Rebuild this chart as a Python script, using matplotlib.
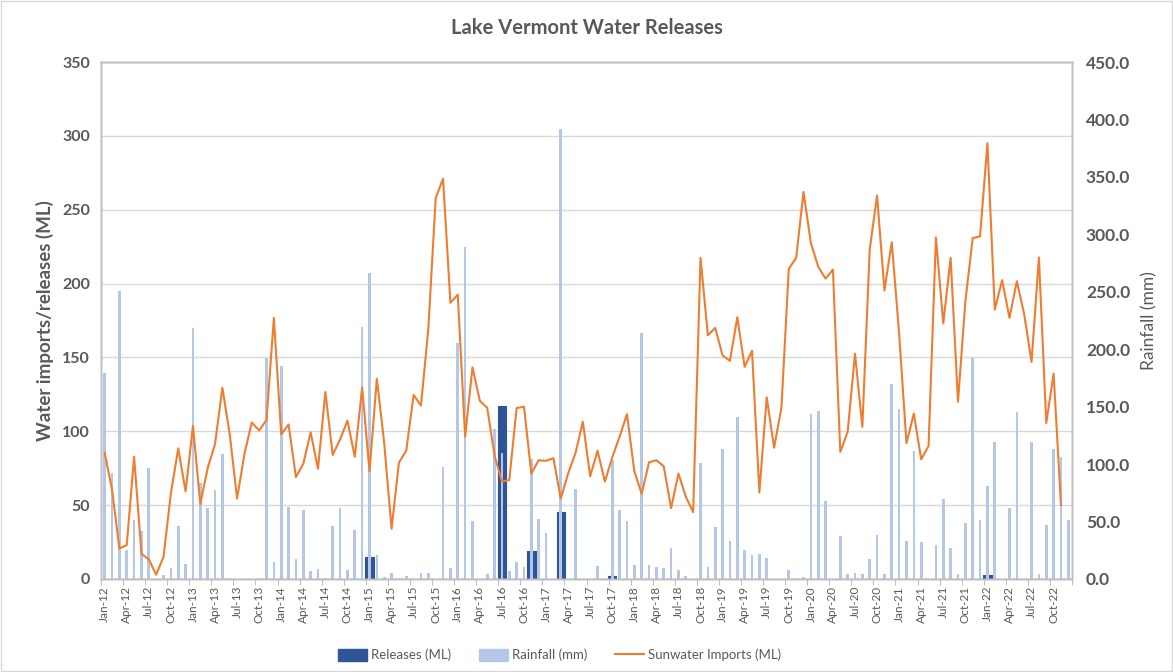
import numpy as np
import matplotlib
matplotlib.use("Agg")
import matplotlib.pyplot as plt
from matplotlib.patches import Patch, Rectangle
from matplotlib.lines import Line2D

plt.rcParams.update({
    "font.family": ["Lato", "DejaVu Sans"],
    "axes.linewidth": 1.0,
})

# --- Data (monthly, Jan-12 .. Dec-22) ---
years = list(range(2012, 2023))
month_abbr = ["Jan", "Feb", "Mar", "Apr", "May", "Jun",
              "Jul", "Aug", "Sep", "Oct", "Nov", "Dec"]
months = ["%s-%02d" % (m, y % 100) for y in years for m in month_abbr]

sunwater_imports = [
    85.5, 60.5, 20.6, 23.0, 82.8, 17.0, 13.3, 2.9, 15.0, 58.0, 88.4, 59.3,          # 2012
    103.6, 50.8, 75.0, 91.3, 129.5, 98.0, 54.5, 84.7, 106.0, 100.5, 107.7, 176.8,   # 2013
    98.0, 104.6, 69.0, 78.0, 99.3, 74.6, 126.6, 84.0, 94.4, 107.3, 82.8, 129.5,     # 2014
    73.0, 135.6, 92.0, 34.0, 78.7, 87.0, 124.7, 117.4, 169.5, 257.9, 271.0, 187.0,  # 2015
    192.5, 96.4, 143.3, 120.6, 116.0, 83.5, 66.0, 67.0, 115.7, 116.7, 71.4, 80.4,   # 2016
    80.0, 81.8, 54.5, 71.4, 85.2, 106.5, 69.5, 86.9, 66.0, 82.3, 96.4, 111.6,       # 2017
    73.0, 57.6, 79.0, 80.4, 76.3, 48.0, 71.4, 55.7, 45.3, 217.4, 165.0, 170.0,      # 2018
    151.3, 147.7, 177.2, 143.6, 154.5, 58.6, 123.0, 88.9, 116.0, 210.0, 217.4, 262.0,  # 2019
    227.6, 211.4, 203.4, 209.4, 86.0, 99.5, 152.5, 103.0, 223.0, 259.6, 195.4, 228.0,  # 2020
    166.0, 92.0, 112.0, 81.0, 90.0, 231.2, 173.0, 217.4, 120.0, 187.8, 230.8, 232.0,   # 2021
    295.0, 182.4, 202.3, 176.8, 201.6, 179.3, 147.0, 217.7, 105.6, 139.0, 50.1, np.nan,  # 2022
]

rainfall_mm = [
    179.0, 92.5, 250.7, 25.5, 51.4, 42.0, 96.5, 0.0, 3.7, 10.0, 46.0, 13.4,         # 2012
    218.6, 83.5, 61.4, 77.9, 109.0, 1.0, 0.0, 0.0, 0.0, 1.0, 192.5, 14.6,           # 2013
    185.3, 63.0, 17.0, 60.0, 6.8, 8.7, 0.6, 45.8, 61.4, 7.8, 43.0, 219.0,           # 2014
    266.0, 21.0, 2.0, 5.3, 0.6, 2.5, 0.0, 5.3, 5.6, 0.0, 97.2, 10.0,                # 2015
    205.5, 289.0, 50.4, 0.0, 4.4, 130.8, 109.6, 6.9, 14.6, 10.6, 104.3, 52.0,       # 2016
    39.9, 0.0, 391.8, 0.0, 78.5, 0.0, 0.0, 10.9, 0.0, 103.4, 60.0, 50.4,            # 2017
    11.8, 214.3, 11.8, 10.6, 9.3, 27.0, 7.8, 2.5, 0.0, 101.2, 10.6, 45.2,           # 2018
    113.0, 33.3, 140.8, 24.9, 20.9, 21.8, 18.0, 0.0, 0.0, 7.8, 1.2, 1.9,            # 2019
    143.3, 146.4, 67.9, 0.0, 37.4, 4.0, 5.6, 4.0, 17.8, 38.0, 4.4, 169.7,           # 2020
    148.0, 33.3, 111.2, 31.8, 0.0, 29.3, 70.0, 27.4, 4.0, 48.9, 192.5, 51.4,        # 2021
    81.0, 119.3, 0.0, 61.4, 145.4, 0.0, 119.0, 4.0, 47.3, 113.0, 106.5, 51.4,       # 2022
]

releases_ml = [0.0] * len(months)
release_events = {"Jan-15": 15.0, "Jul-16": 117.0, "Nov-16": 19.0,
                  "Mar-17": 45.5, "Oct-17": 2.0, "Jan-22": 2.5}
for k, v in release_events.items():
    releases_ml[months.index(k)] = v

# --- Colours ---
c_release = "#2F5597"
c_rain = "#B4C7E7"
c_line = "#ED7D31"
c_text = "#595959"
c_grid = "#D9D9D9"
c_spine = "#BFBFBF"

x = np.arange(len(months))

fig = plt.figure(figsize=(11.73, 6.72), dpi=100)
ax = fig.add_axes([0.0861, 0.1384, 0.8278, 0.7693])
ax2 = ax.twinx()
ax3 = ax.twinx()

# releases (left axis), rainfall (right axis), imports line on top
ax.bar(x, releases_ml, width=1.15, color=c_release, edgecolor=c_release,
       linewidth=0.8, joinstyle="round", zorder=2)
ax2.bar(x, rainfall_mm, width=0.36, color=c_rain, linewidth=0, zorder=2)
ax3.plot(x, sunwater_imports, color=c_line, lw=1.5, zorder=3)

# --- Axes ---
ax.set_xlim(-0.5, len(months) - 0.5)
ax.set_ylim(0, 350)
ax2.set_ylim(0, 450)
ax3.set_ylim(0, 350)
ax3.yaxis.set_visible(False)

ax.set_yticks(np.arange(0, 351, 50))
ax.set_yticklabels([str(v) for v in range(0, 351, 50)])
ax2.set_yticks(np.arange(0, 451, 50))
ax2.set_yticklabels(["%.1f" % v for v in range(0, 451, 50)])

ax.yaxis.grid(True, color=c_grid, lw=1.0)
ax.set_axisbelow(True)

# category boundaries every 3 months as tick marks, labels centred on months
ax.set_xticks(np.arange(-0.5, len(months), 3))
ax.set_xticklabels([])
ax.set_xticks(x[::3], minor=True)
ax.set_xticklabels(months[::3], minor=True, rotation=90, fontsize=8.5, color=c_text)
ax.tick_params(axis="x", which="major", length=4, color=c_spine, direction="out")
ax.tick_params(axis="x", which="minor", length=0, pad=5)

for a in (ax, ax2, ax3):
    for s in a.spines.values():
        s.set_color(c_spine)

ax.tick_params(axis="y", length=0, pad=8)
ax2.tick_params(axis="y", length=0, pad=10)
for lab in ax.get_yticklabels():
    lab.set_fontsize(11.5)
    lab.set_fontweight("bold")
    lab.set_color(c_text)
for lab in ax2.get_yticklabels():
    lab.set_fontsize(12.5)
    lab.set_fontweight("bold")
    lab.set_color(c_text)

ax.set_ylabel("Water imports/releases (ML)", fontsize=13.5, fontweight="bold",
              color=c_text, labelpad=6)
ax2.set_ylabel("Rainfall (mm)", fontsize=12.5, color=c_text, labelpad=8)

fig.text(0.5, 0.958, "Lake Vermont Water Releases", ha="center", va="center",
         fontsize=14.5, fontweight="bold", color=c_text)

# --- Legend ---
handles = [Patch(facecolor=c_release, edgecolor=c_release),
           Patch(facecolor=c_rain, edgecolor=c_rain),
           Line2D([], [], color=c_line, lw=1.5)]
labels = ["Releases (ML)", "Rainfall (mm)", "Sunwater Imports (ML)"]
leg = fig.legend(handles, labels, loc="center", bbox_to_anchor=(0.477, 0.025),
                 ncol=3, frameon=False, fontsize=9.5, handlelength=2.2,
                 handleheight=1.0, handletextpad=0.3, columnspacing=2.1)
for t in leg.get_texts():
    t.set_color(c_text)

# chart-area border
fig.patches.append(Rectangle((0.001, 0.001), 0.998, 0.998, transform=fig.transFigure,
                             fill=False, edgecolor="#D9D9D9", lw=1.0))

fig.savefig("out.png", dpi=100)
